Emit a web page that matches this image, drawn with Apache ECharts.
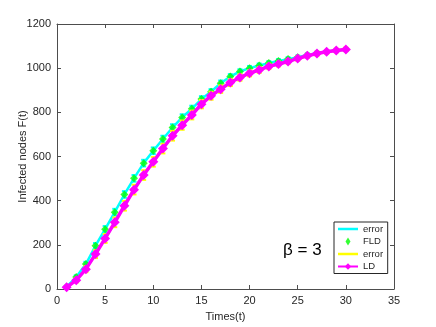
<!DOCTYPE html>
<html>
<head>
<meta charset="utf-8">
<script src="https://cdn.jsdelivr.net/npm/echarts@6/dist/echarts.min.js"></script>
<style>
  html, body { margin: 0; padding: 0; background: #fff; }
  #chart { width: 436px; height: 327px; }
</style>
</head>
<body>
<div id="chart"></div>
<script>
// 时间步
var times = [1, 2, 3, 4, 5, 6, 7, 8, 9, 10, 11, 12, 13, 14, 15, 16, 17, 18, 19, 20, 21, 22, 23, 24, 25, 26, 27, 28, 29, 30];
// FLD 模型
var fldValues = [10, 54, 113, 196, 271, 348, 428, 501, 570, 626, 679, 731, 777, 816, 860, 893, 932, 962, 985, 1000, 1012, 1023, 1033, 1041, 1050, 1060, 1068, 1075, 1080, 1085];
var fldErr = [4, 8, 10, 12, 14, 15, 15, 15, 15, 15, 15, 15, 14, 14, 13, 12, 12, 11, 10, 10, 9, 9, 8, 8, 7, 7, 6, 6, 6, 6];
// LD 模型
var ldValues = [8, 40, 90, 158, 229, 302, 377, 450, 516, 576, 636, 694, 742, 788, 837, 875, 905, 935, 958, 977, 992, 1008, 1019, 1030, 1044, 1056, 1066, 1074, 1080, 1085];
var ldErr = [5, 10, 14, 18, 20, 22, 22, 22, 22, 22, 22, 22, 21, 20, 19, 18, 17, 16, 15, 14, 13, 12, 11, 10, 10, 9, 9, 8, 8, 8];
// 坐标轴刻度
var xTicks = [0, 35, 5];
var yTicks = [0, 1200, 200];

function pairs(vals) {
    var out = [];
    for (var i = 0; i < times.length; i++) {
        out.push([times[i], vals[i]]);
    }
    return out;
}
function errData(vals, errs) {
    var out = [];
    for (var i = 0; i < times.length; i++) {
        out.push([times[i], vals[i] - errs[i], vals[i] + errs[i]]);
    }
    return out;
}
// 误差棒
function errBar(color) {
    return function (params, api) {
        var lo = api.coord([api.value(0), api.value(1)]);
        var hi = api.coord([api.value(0), api.value(2)]);
        var w = 2.5;
        var st = { stroke: color, lineWidth: 2 };
        return {
            type: 'group',
            children: [
                { type: 'line', shape: { x1: lo[0], y1: lo[1], x2: hi[0], y2: hi[1] }, style: st },
                { type: 'line', shape: { x1: lo[0] - w, y1: lo[1], x2: lo[0] + w, y2: lo[1] }, style: st },
                { type: 'line', shape: { x1: hi[0] - w, y1: hi[1], x2: hi[0] + w, y2: hi[1] }, style: st }
            ]
        };
    };
}

var axisColor = '#4d4d4d';
var textColor = '#262626';
var font = 'Liberation Sans, Arial, sans-serif';

function axisBase(show) {
    return {
        axisLine: { show: true, onZero: false, lineStyle: { color: axisColor, width: 1 } },
        axisTick: { show: true, inside: true, length: 4, lineStyle: { color: axisColor } },
        axisLabel: {
            show: show, color: textColor, fontSize: 11, fontFamily: font,
            formatter: function (v) { return String(v); }
        },
        splitLine: { show: false },
        nameMoveOverlap: false
    };
}

var xMain = axisBase(true);
xMain.type = 'value'; xMain.min = xTicks[0]; xMain.max = xTicks[1]; xMain.interval = xTicks[2];
xMain.name = 'Times(t)'; xMain.nameLocation = 'middle'; xMain.nameGap = 22;
xMain.nameTextStyle = { color: textColor, fontSize: 11, fontFamily: font };
xMain.axisLabel.margin = 6;
var xTop = axisBase(false);
xTop.type = 'value'; xTop.min = xTicks[0]; xTop.max = xTicks[1]; xTop.interval = xTicks[2]; xTop.position = 'top';

var yMain = axisBase(true);
yMain.type = 'value'; yMain.min = yTicks[0]; yMain.max = yTicks[1]; yMain.interval = yTicks[2];
yMain.name = 'Infected nodes F(t)'; yMain.nameLocation = 'middle'; yMain.nameGap = 29;
yMain.nameTextStyle = { color: textColor, fontSize: 11, fontFamily: font };
yMain.axisLabel.margin = 6;
var yRight = axisBase(false);
yRight.type = 'value'; yRight.min = yTicks[0]; yRight.max = yTicks[1]; yRight.interval = yTicks[2]; yRight.position = 'right';

var lineIcon = 'path://M0,0L40,0L40,5L0,5Z';
var diamondIcon = 'path://M5,0L10,8L5,16L0,8Z';

var option = {
    animation: false,
    backgroundColor: '#fff',
    grid: { left: 57, right: 42, top: 24, bottom: 36, containLabel: false },
    xAxis: [xMain, xTop],
    yAxis: [yMain, yRight],
    legend: {
        data: [
            { name: 'error', icon: lineIcon },
            { name: 'FLD', icon: diamondIcon },
            { name: 'error ', icon: lineIcon },
            { name: 'LD' }
        ],
        orient: 'vertical',
        left: 334,
        top: 222,
        padding: [2, 2, 2, 3],
        itemWidth: 20,
        itemHeight: 8,
        itemGap: 2.5,
        backgroundColor: '#fff',
        borderColor: '#262626',
        borderWidth: 1,
        textStyle: { color: textColor, fontSize: 9.5, fontFamily: font }
    },
    graphic: [{
        type: 'text',
        left: 283,
        top: 242,
        style: { text: 'β = 3', fill: '#000', font: '17px Liberation Sans, Arial, sans-serif' }
    }],
    series: [
        {
            name: 'error',
            type: 'line',
            data: pairs(fldValues),
            symbol: 'none',
            lineStyle: { color: '#00ffff', width: 2.5 },
            itemStyle: { color: '#00ffff' },
            z: 1
        },
        {
            type: 'custom',
            data: errData(fldValues, fldErr),
            renderItem: errBar('#00ffff'),
            encode: { x: 0, y: [1, 2] },
            z: 1
        },
        {
            name: 'FLD',
            type: 'scatter',
            data: pairs(fldValues),
            symbol: 'diamond',
            symbolSize: 8,
            itemStyle: { color: '#00ff00' },
            z: 2
        },
        {
            type: 'custom',
            data: errData(ldValues, ldErr),
            renderItem: errBar('#ffff00'),
            encode: { x: 0, y: [1, 2] },
            z: 3
        },
        {
            name: 'error ',
            type: 'line',
            data: pairs(ldValues),
            symbol: 'none',
            lineStyle: { color: '#ffff00', width: 2.5 },
            itemStyle: { color: '#ffff00' },
            z: 3
        },
        {
            name: 'LD',
            type: 'line',
            data: pairs(ldValues),
            symbol: 'diamond',
            symbolSize: 10,
            showAllSymbol: true,
            lineStyle: { color: '#ff00ff', width: 3.5 },
            itemStyle: { color: '#ff00ff' },
            z: 4
        }
    ]
};
var myChart = echarts.init(document.getElementById('chart'));
myChart.setOption(option);
</script>
</body>
</html>
